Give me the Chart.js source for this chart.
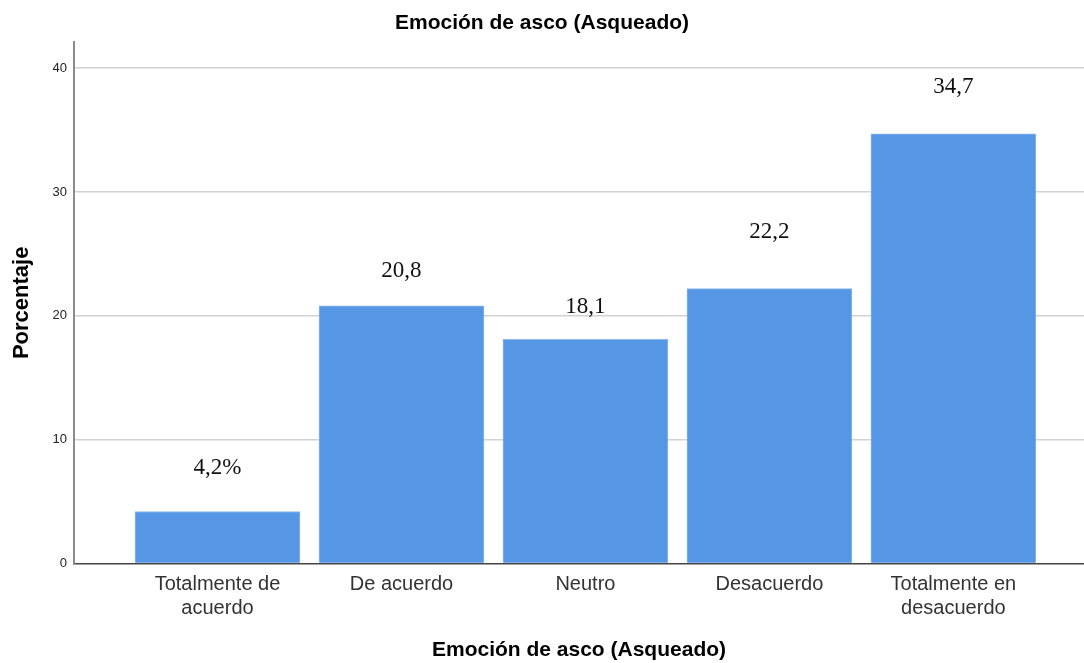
<!DOCTYPE html>
<html lang="es">
<head>
    <meta charset="UTF-8">
    <title>Emoción de asco (Asqueado)</title>
    <style>
        body {
            margin: 0;
            background: #fff;
        }
        .chart-box {
            width: 1084px;
            height: 663px;
        }
    </style>
</head>
<body>
    <div class="chart-box">
        <canvas id="ascoChart"></canvas>
    </div>
    <script src="https://cdn.jsdelivr.net/npm/chart.js"></script>
    <script>
        const categories = [
            ['Totalmente de', 'acuerdo'],
            'De acuerdo',
            'Neutro',
            'Desacuerdo',
            ['Totalmente en', 'desacuerdo']
        ];
        const percentages = [4.2, 20.8, 18.1, 22.2, 34.7];
        const valueLabels = ['4,2%', '20,8', '18,1', '22,2', '34,7'];
        const yTicks = [0, 10, 20, 30, 40];

        // how far each value label sits above its bar (px)
        const labelLift = [44, 35, 32, 57, 47];

        const valueLabelPlugin = {
            id: 'valueLabels',
            afterDatasetsDraw(chart) {
                const ctx = chart.ctx;
                const bars = chart.getDatasetMeta(0).data;
                ctx.save();
                ctx.font = '23px "Liberation Serif", "Times New Roman", serif';
                ctx.fillStyle = '#111';
                ctx.textAlign = 'center';
                ctx.textBaseline = 'middle';
                bars.forEach((bar, i) => {
                    ctx.fillText(valueLabels[i], bar.x, bar.y - labelLift[i]);
                });
                ctx.restore();
            }
        };

        const sansFont = '"Liberation Sans", Arial, sans-serif';

        const ctx = document.getElementById('ascoChart').getContext('2d');
        new Chart(ctx, {
            type: 'bar',
            data: {
                datasets: [{
                    data: percentages.map((v, i) => ({ x: i, y: v })),
                    backgroundColor: '#5596e5',
                    borderColor: '#8db8ee',
                    borderWidth: 1,
                    barThickness: 165
                }]
            },
            plugins: [valueLabelPlugin],
            options: {
                responsive: true,
                maintainAspectRatio: false,
                animation: false,
                layout: { padding: 0 },
                plugins: {
                    legend: { display: false },
                    tooltip: { enabled: false },
                    title: {
                        display: true,
                        text: 'Emoción de asco (Asqueado)',
                        color: '#000',
                        font: { family: sansFont, size: 21, weight: 'bold' },
                        padding: { top: 11, bottom: 6 }
                    }
                },
                scales: {
                    x: {
                        type: 'linear',
                        offset: false,
                        min: -0.78,
                        max: 4.71,
                        grid: { display: false, drawTicks: false },
                        border: { display: true, color: '#444', width: 1.5 },
                        afterBuildTicks(scale) {
                            scale.ticks = categories.map((c, i) => ({ value: i }));
                        },
                        afterFit(scale) {
                            scale.height = 99.5;
                        },
                        ticks: {
                            autoSkip: false,
                            maxRotation: 0,
                            padding: 9,
                            color: '#333',
                            font: { family: sansFont, size: 20 },
                            callback: (v) => categories[v]
                        },
                        title: {
                            display: true,
                            text: 'Emoción de asco (Asqueado)',
                            color: '#000',
                            font: { family: sansFont, size: 21, weight: 'bold' },
                            padding: { top: 0, bottom: 0 }
                        }
                    },
                    y: {
                        min: 0,
                        max: 42.1,
                        afterBuildTicks(scale) {
                            scale.ticks = yTicks.map(v => ({ value: v }));
                        },
                        afterFit(scale) {
                            scale.width = 74;
                        },
                        grid: {
                            color: (c) => c.tick && c.tick.value === 0 ? 'rgba(0,0,0,0)' : '#d2d2d2',
                            lineWidth: 1.5,
                            drawTicks: false
                        },
                        border: { display: true, color: '#8a8a8a', width: 2 },
                        ticks: {
                            padding: 7,
                            color: '#222',
                            font: { family: sansFont, size: 13 }
                        },
                        title: {
                            display: true,
                            text: 'Porcentaje',
                            color: '#000',
                            font: { family: sansFont, size: 22, weight: 'bold' },
                            padding: { top: 9, bottom: 0 }
                        }
                    }
                }
            }
        });
    </script>
</body>
</html>
